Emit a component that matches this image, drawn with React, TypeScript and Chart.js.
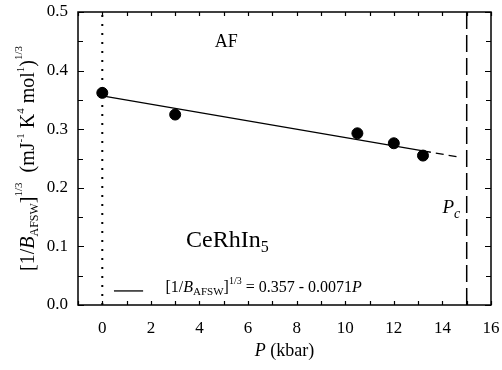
import React, { useEffect, useRef } from "react";
import { Chart, registerables } from "chart.js";

Chart.register(...registerables);

const SERIF = '"Liberation Serif", "Times New Roman", serif';

// Measured data (P in kbar, [1/B_AFSW]^(1/3))
const pressure = [0, 3, 10.5, 12, 13.2];
const invB = [0.362, 0.325, 0.293, 0.276, 0.255];

// Linear fit line: solid part and dashed extrapolation
const fitSolidX = [0, 13.2];
const fitSolidY = [0.357, 0.263];
const fitDashX = [13.2, 14.6];
const fitDashY = [0.263, 0.253];

// Vertical guides
const afLineX = [0, 0];
const pcLineX = [15, 15];
const guideY = [0, 0.5];

// Axis ticks
const xTickValues = [0, 2, 4, 6, 8, 10, 12, 14, 16];
const yTickValues = [0, 0.1, 0.2, 0.3, 0.4, 0.5];
const xMinorStep = 1;
const yMinorStep = 0.05;

const X_MIN = -1;
const X_MAX = 16;
const Y_MIN = 0;
const Y_MAX = 0.5;

type Seg = { t: string; font: string; dy?: number };

function drawRich(ctx: CanvasRenderingContext2D, x: number, y: number, segs: Seg[], align: "left" | "center") {
  let total = 0;
  const widths = segs.map((s) => {
    ctx.font = s.font;
    const w = ctx.measureText(s.t).width;
    total += w;
    return w;
  });
  let cx = align === "center" ? x - total / 2 : x;
  ctx.textAlign = "left";
  ctx.textBaseline = "alphabetic";
  segs.forEach((s, i) => {
    ctx.font = s.font;
    ctx.fillText(s.t, cx, y + (s.dy || 0));
    cx += widths[i];
  });
}

const framePlugin = {
  id: "framePlugin",
  afterDatasetsDraw(chart: any) {
    const ctx: CanvasRenderingContext2D = chart.ctx;
    const { left, right, top, bottom } = chart.chartArea;
    const xs = chart.scales.x;
    const ys = chart.scales.y;
    ctx.save();
    ctx.strokeStyle = "#000";
    ctx.fillStyle = "#000";
    ctx.lineWidth = 1.5;
    ctx.strokeRect(left, top, right - left, bottom - top);

    ctx.lineWidth = 1.2;
    ctx.beginPath();
    for (let v = X_MIN; v <= X_MAX + 1e-9; v += xMinorStep) {
      const px = Math.round(xs.getPixelForValue(v)) + 0.5;
      const len = 4;
      ctx.moveTo(px, bottom);
      ctx.lineTo(px, bottom - len);
      ctx.moveTo(px, top);
      ctx.lineTo(px, top + len);
    }
    for (let v = Y_MIN; v <= Y_MAX + 1e-9; v += yMinorStep) {
      const py = Math.round(ys.getPixelForValue(v)) + 0.5;
      const major = yTickValues.some((t) => Math.abs(t - v) < 1e-6);
      const len = major ? 6 : 5;
      ctx.moveTo(left, py);
      ctx.lineTo(left + len, py);
      ctx.moveTo(right, py);
      ctx.lineTo(right - len, py);
    }
    ctx.stroke();

    const px = (v: number) => xs.getPixelForValue(v);
    const py = (v: number) => ys.getPixelForValue(v);

    drawRich(ctx, px(5.1), py(0.44), [{ t: "AF", font: `18px ${SERIF}` }], "center");

    drawRich(
      ctx,
      px(3.45),
      py(0.099),
      [
        { t: "CeRhIn", font: `24px ${SERIF}` },
        { t: "5", font: `16px ${SERIF}`, dy: 5 },
      ],
      "left"
    );

    drawRich(
      ctx,
      px(14.0),
      py(0.157),
      [
        { t: "P", font: `italic 19px ${SERIF}` },
        { t: "c", font: `italic 14px ${SERIF}`, dy: 5 },
      ],
      "left"
    );

    // Legend
    const ly = py(0.024);
    ctx.lineWidth = 1.3;
    ctx.beginPath();
    ctx.moveTo(px(0.48), ly);
    ctx.lineTo(px(1.68), ly);
    ctx.stroke();
    drawRich(
      ctx,
      px(2.6),
      ly + 1,
      [
        { t: "[1/", font: `16px ${SERIF}` },
        { t: "B", font: `italic 16px ${SERIF}` },
        { t: "AFSW", font: `11px ${SERIF}`, dy: 3 },
        { t: "]", font: `16px ${SERIF}` },
        { t: "1/3", font: `10px ${SERIF}`, dy: -8 },
        { t: " = 0.357 - 0.0071", font: `16px ${SERIF}` },
        { t: "P", font: `italic 16px ${SERIF}` },
      ],
      "left"
    );

    // X axis title
    drawRich(
      ctx,
      (left + right) / 2,
      356,
      [
        { t: "P", font: `italic 18px ${SERIF}` },
        { t: " (kbar)", font: `18px ${SERIF}` },
      ],
      "center"
    );

    // Y axis title (rotated)
    ctx.save();
    ctx.translate(34, (top + bottom) / 2);
    ctx.rotate(-Math.PI / 2);
    drawRich(
      ctx,
      0,
      0,
      [
        { t: "[1/", font: `20px ${SERIF}` },
        { t: "B", font: `italic 20px ${SERIF}` },
        { t: "AFSW", font: `12px ${SERIF}`, dy: 4 },
        { t: "]", font: `20px ${SERIF}` },
        { t: "1/3", font: `11px ${SERIF}`, dy: -12 },
        { t: "  (mJ", font: `20px ${SERIF}` },
        { t: "-1", font: `11px ${SERIF}`, dy: -10 },
        { t: " K", font: `20px ${SERIF}` },
        { t: "4", font: `11px ${SERIF}`, dy: -10 },
        { t: " mol", font: `20px ${SERIF}` },
        { t: "1", font: `11px ${SERIF}`, dy: -10 },
        { t: ")", font: `20px ${SERIF}` },
        { t: "1/3", font: `11px ${SERIF}`, dy: -12 },
      ],
      "center"
    );
    ctx.restore();

    ctx.restore();
  },
};

const hiddenGrid = (len: number) => ({
  display: true,
  drawOnChartArea: false,
  drawTicks: true,
  tickLength: len,
  color: "rgba(0,0,0,0)",
});

export default function App() {
  const ref = useRef<HTMLCanvasElement | null>(null);

  useEffect(() => {
    document.body.style.margin = "0";
    if (!ref.current) return;
    const pts = pressure.map((p, i) => ({ x: p, y: invB[i] }));
    const solid = fitSolidX.map((x, i) => ({ x, y: fitSolidY[i] }));
    const dashed = fitDashX.map((x, i) => ({ x, y: fitDashY[i] }));
    const afLine = afLineX.map((x, i) => ({ x, y: guideY[i] }));
    const pcLine = pcLineX.map((x, i) => ({ x, y: guideY[i] }));

    const chart = new Chart(ref.current, {
      type: "scatter",
      data: {
        datasets: [
          {
            label: "data",
            data: pts,
            showLine: false,
            pointRadius: 5.5,
            pointBackgroundColor: "#000",
            pointBorderColor: "#000",
            order: 0,
          },
          {
            label: "fit",
            data: solid,
            showLine: true,
            borderColor: "#000",
            borderWidth: 1.3,
            pointRadius: 0,
            order: 1,
          },
          {
            label: "fit extrapolated",
            data: dashed,
            showLine: true,
            borderColor: "#000",
            borderWidth: 1.3,
            borderDash: [8, 5],
            pointRadius: 0,
            order: 1,
          },
          {
            label: "AF boundary",
            data: afLine,
            showLine: true,
            borderColor: "#000",
            borderWidth: 2,
            borderDash: [2, 7],
            pointRadius: 0,
            order: 2,
          },
          {
            label: "Pc",
            data: pcLine,
            showLine: true,
            borderColor: "#000",
            borderWidth: 1.5,
            borderDash: [17, 6],
            pointRadius: 0,
            order: 2,
          },
        ],
      },
      options: {
        animation: false,
        responsive: true,
        maintainAspectRatio: false,
        layout: { padding: { top: 12, right: 11, left: 0, bottom: 0 } },
        plugins: { legend: { display: false }, tooltip: { enabled: false } },
        scales: {
          x: {
            type: "linear",
            min: X_MIN,
            max: X_MAX,
            grid: hiddenGrid(13),
            border: { display: false },
            afterBuildTicks: (s: any) => {
              s.ticks = xTickValues.map((v) => ({ value: v }));
            },
            afterFit: (s: any) => {
              s.height = 65;
            },
            ticks: {
              color: "#000",
              padding: 0,
              maxRotation: 0,
              autoSkip: false,
              font: { family: SERIF, size: 17 },
              callback: (v: any) => String(v),
            },
          },
          y: {
            type: "linear",
            min: Y_MIN,
            max: Y_MAX,
            grid: hiddenGrid(10),
            border: { display: false },
            afterBuildTicks: (s: any) => {
              s.ticks = yTickValues.map((v) => ({ value: v }));
            },
            afterFit: (s: any) => {
              s.width = 78;
            },
            ticks: {
              color: "#000",
              padding: 0,
              autoSkip: false,
              font: { family: SERIF, size: 17 },
              callback: (v: any) => Number(v).toFixed(1),
            },
          },
        },
      },
      plugins: [framePlugin],
    });
    return () => chart.destroy();
  }, []);

  return (
    <div style={{ width: 502, height: 370, position: "relative" }}>
      <canvas ref={ref} />
    </div>
  );
}
